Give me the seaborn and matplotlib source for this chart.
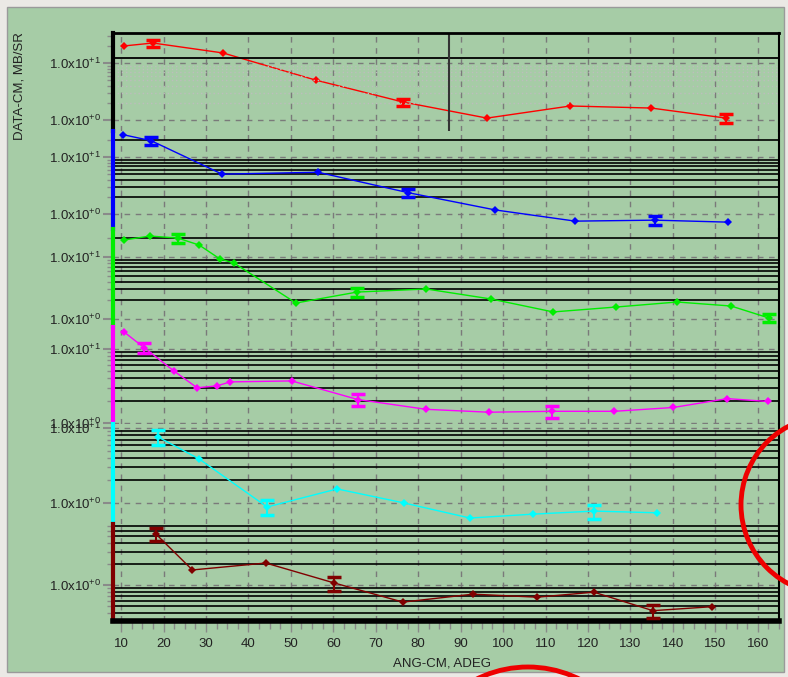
import numpy as np
import matplotlib.pyplot as plt
import matplotlib.ticker as mticker
from matplotlib.patches import Rectangle, Ellipse
import seaborn as sns

plt.rcParams['font.family'] = ['Liberation Sans', 'DejaVu Sans']

# angle (deg, CM), cross section (mb/sr), error (0 = no bar drawn)
red_ang = [10.7, 17.5, 34.0, 55.9, 76.4, 96.2, 115.8, 134.9, 152.5]
red_val = [19.9, 22.4, 15.0, 5.0, 2.07, 1.08, 1.76, 1.62, 1.08]
red_err = [0, 3.2, 0, 0, 0.30, 0, 0, 0, 0.18]

blue_ang = [10.4, 17.1, 33.8, 56.4, 77.6, 98.1, 117.0, 135.8, 153.0]
blue_val = [24.7, 19.3, 5.0, 5.4, 2.37, 1.18, 0.75, 0.78, 0.72]
blue_err = [0, 3.3, 0, 0, 0.35, 0, 0, 0.15, 0]

green_ang = [10.7, 16.8, 23.4, 28.4, 33.3, 36.6, 51.2, 65.6, 81.9, 97.2, 111.8, 126.6, 141.0, 153.7, 162.6]
green_val = [18.8, 21.8, 20.2, 15.6, 9.3, 8.0, 1.81, 2.72, 3.05, 2.10, 1.30, 1.56, 1.88, 1.62, 1.04]
green_err = [0, 0, 3.1, 0, 0, 0, 0, 0.42, 0, 0, 0, 0, 0, 0, 0.16]

mag_ang = [10.7, 15.4, 22.5, 27.9, 32.6, 35.7, 50.2, 65.8, 81.9, 96.7, 111.5, 126.2, 140.1, 152.8, 162.4]
mag_val = [16.7, 10.3, 4.98, 2.98, 3.16, 3.57, 3.68, 2.07, 1.53, 1.40, 1.44, 1.44, 1.62, 2.13, 1.95]
mag_err = [0, 1.6, 0, 0, 0, 0, 0, 0.38, 0, 0, 0.27, 0, 0, 0, 0]

cyan_ang = [18.7, 28.4, 44.4, 60.9, 76.7, 92.2, 107.0, 121.4, 136.3]
cyan_val = [7.59, 3.86, 0.885, 1.54, 1.0, 0.63, 0.71, 0.78, 0.74]
cyan_err = [1.7, 0, 0.2, 0, 0, 0, 0, 0.16, 0]

dred_ang = [18.2, 26.8, 44.1, 60.2, 76.4, 92.9, 108.0, 121.4, 135.3, 149.2]
dred_val = [5.35, 1.64, 2.06, 1.07, 0.57, 0.74, 0.67, 0.79, 0.43, 0.49]
dred_err = [1.1, 0, 0, 0.24, 0, 0, 0, 0, 0.09, 0]

panels = [
    dict(ang=red_ang, val=red_val, err=red_err, color='#ff0000', spine='black',
         ylog=(-0.193, 1.526), ticks=[1, 10]),
    dict(ang=blue_ang, val=blue_val, err=blue_err, color='#0000ff', spine='#0000ff',
         ylog=(-0.263, 1.456), ticks=[1, 10]),
    dict(ang=green_ang, val=green_val, err=green_err, color='#00ee00', spine='#00ee00',
         ylog=(-0.129, 1.452), ticks=[1, 10]),
    dict(ang=mag_ang, val=mag_val, err=mag_err, color='#ff00ff', spine='#ff00ff',
         ylog=(-0.012, 1.289), ticks=[1, 10]),
    dict(ang=cyan_ang, val=cyan_val, err=cyan_err, color='#00ffff', spine='#00ffff',
         ylog=(-0.28, 1.053), ticks=[1, 10]),
    dict(ang=dred_ang, val=dred_val, err=dred_err, color='#800000', spine='#800000',
         ylog=(-0.514, 0.871), ticks=[1]),
]

W, H = 788, 677
BG = '#a6cca6'
edges = [33, 131, 229, 327, 424, 524, 621]

fig = plt.figure(figsize=(W / 100, H / 100), dpi=100)
fig.patch.set_facecolor('#ebe9e5')
fig.add_artist(Rectangle((7 / W, 1 - 672 / H), 777 / W, 665 / H, transform=fig.transFigure,
                         fc=BG, ec='#9a9a9a', lw=1, zorder=-10))


def fmt(v, pos):
    return r'1.0x10$^{\mathregular{+%d}}$' % round(np.log10(v))


upper_minor = [m * d for d in (1, 10) for m in range(2, 10)]

for i, p in enumerate(panels):
    top, bot = edges[i], edges[i + 1]
    last = i == len(panels) - 1
    ax = fig.add_axes([113 / W, 1 - bot / H, 666 / W, (bot - top) / H])
    ax.set_facecolor('none')
    ax.set_yscale('log')

    sns.lineplot(x=p['ang'], y=p['val'], ax=ax, color=p['color'], lw=1, marker='D',
                 markersize=4.5, markeredgewidth=0, estimator=None, sort=False, legend=False)
    ea = [a for a, e in zip(p['ang'], p['err']) if e > 0]
    ev = [v for v, e in zip(p['val'], p['err']) if e > 0]
    ee = [e for e in p['err'] if e > 0]
    ax.errorbar(ea, ev, yerr=ee, fmt='none', ecolor=p['color'], elinewidth=1.5,
                capsize=5, capthick=2.5, zorder=4)

    ax.set_xlim(8.1, 165)
    ax.set_ylim(10 ** p['ylog'][0], 10 ** p['ylog'][1])

    ax.xaxis.set_major_locator(mticker.MultipleLocator(10))
    ax.xaxis.set_minor_locator(mticker.MultipleLocator(2.5))
    ax.yaxis.set_major_locator(mticker.FixedLocator(p['ticks']))
    ax.yaxis.set_major_formatter(mticker.FuncFormatter(fmt))
    if last:
        ax.yaxis.set_minor_locator(mticker.LogLocator(base=10, subs=np.arange(2, 10)))
    else:
        ax.yaxis.set_minor_locator(mticker.FixedLocator(upper_minor))
    ax.yaxis.set_minor_formatter(mticker.NullFormatter())

    ax.grid(which='major', axis='both', color='#7a7a7a', ls=(0, (4, 4)), lw=1)
    if i == 0:
        ax.hlines(np.arange(2, 10), 8.1, 165, colors='#bdbdbd', linestyles=(0, (1, 2)), lw=1)
        ax.axhline(12.2, color='black', lw=1.3)
        ax.axvline(87.3, color='#333333', lw=1.5)
    else:
        ax.grid(which='minor', axis='y', color='black', ls='-', lw=1.2)

    ax.tick_params(axis='y', which='both', direction='out', color='#8a8a8a',
                   labelcolor='#222222', labelsize=9.5, pad=1.5)
    ax.tick_params(axis='y', which='major', length=7, width=1.5)
    ax.tick_params(axis='y', which='minor', length=4, width=1)
    if not last:
        ax.tick_params(axis='x', which='both', bottom=False, labelbottom=False)
    else:
        ax.tick_params(axis='x', which='both', direction='out', color='#8a8a8a',
                       labelcolor='#222222', labelsize=9.5, pad=4)
        ax.tick_params(axis='x', which='major', length=8, width=1)
        ax.tick_params(axis='x', which='minor', length=6, width=1)

    ax.spines['top'].set_visible(i == 0)
    ax.spines['top'].set_color('black')
    ax.spines['top'].set_linewidth(2)
    ax.spines['bottom'].set_visible(last)
    ax.spines['bottom'].set_color('black')
    ax.spines['bottom'].set_linewidth(4)
    ax.spines['right'].set_color('black')
    ax.spines['right'].set_linewidth(1.5)
    ax.spines['left'].set_color(p['spine'])
    ax.spines['left'].set_linewidth(3)
    ax.set_xlabel('')
    ax.set_ylabel('')

fig.text(20 / W, 1 - 86 / H, 'DATA-CM, MB/SR', rotation=90, ha='center', va='center',
         fontsize=9.5, color='#222222')
fig.text(442 / W, 1 - 663 / H, 'ANG-CM, ADEG', ha='center', va='center',
         fontsize=9.5, color='#222222')

fig.add_artist(Ellipse((830 / W, 1 - 505 / H), 178 / W, 178 / H, transform=fig.transFigure,
                       fill=False, ec='#ee0000', lw=3.5))
fig.add_artist(Ellipse((528 / W, 1 - 782 / H), 230 / W, 230 / H, transform=fig.transFigure,
                       fill=False, ec='#ee0000', lw=3.5))

fig.savefig('out.png', dpi=100, facecolor=fig.get_facecolor())
